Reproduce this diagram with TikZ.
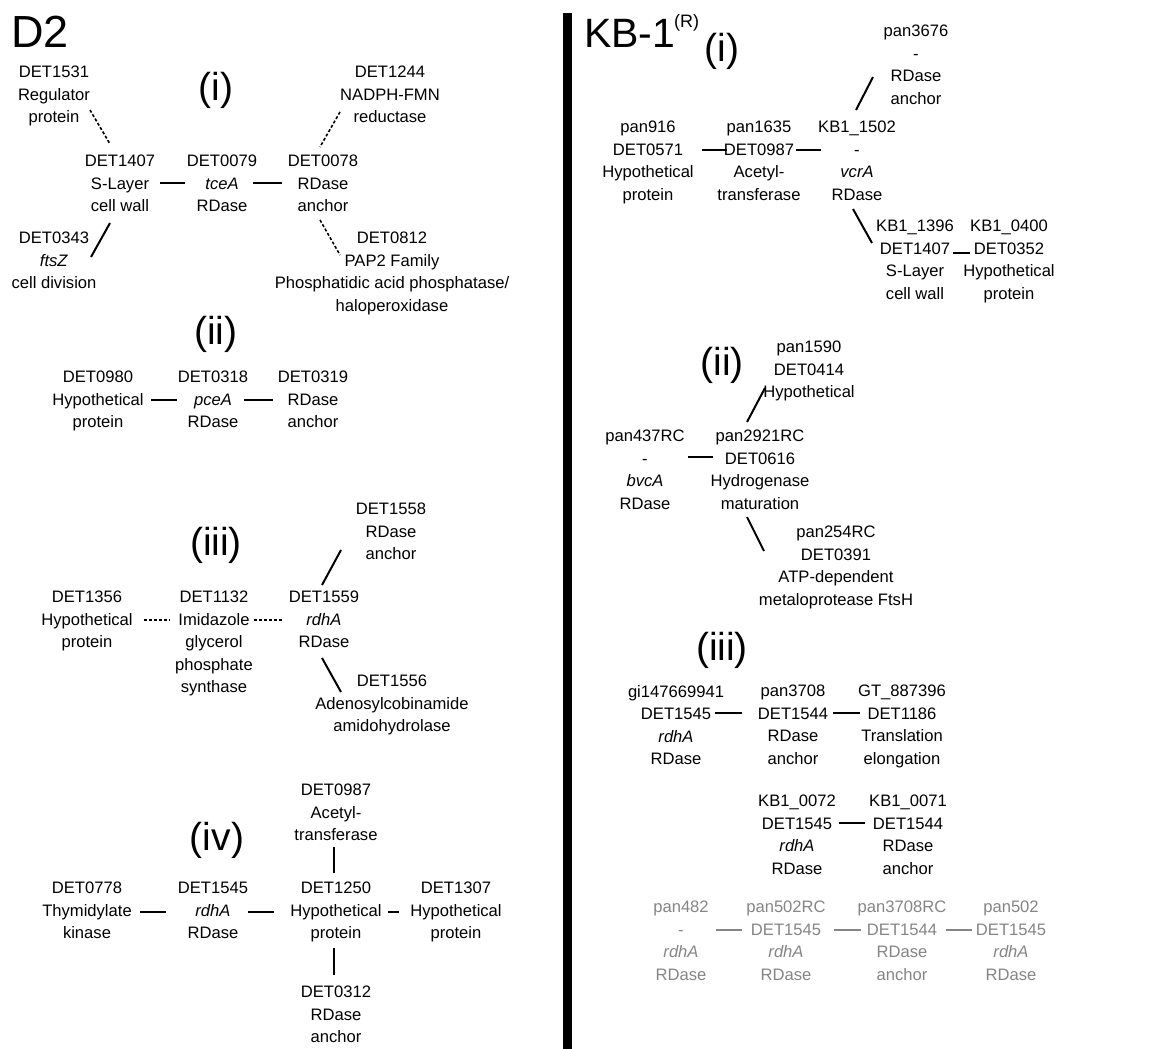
\documentclass[tikz,border=0pt]{standalone}
\usepackage{fontspec}
\setmainfont{Liberation Sans}
\usetikzlibrary{calc}
\definecolor{ghost}{gray}{0.52}
\begin{document}
\begin{tikzpicture}[x=1pt,y=-1pt]
    \tikzstyle{gene}=[align=center, inner sep=0pt, anchor=north, yshift=12pt, font=\fontsize{16.6}{22.5}\selectfont]
    \tikzstyle{faded}=[gene, text=ghost]
    \tikzstyle{title}=[anchor=base west, inner sep=0pt, font=\fontsize{45}{45}\selectfont]
    \tikzstyle{part}=[anchor=base, inner sep=0pt, font=\fontsize{39}{39}\selectfont]
    \tikzstyle{link}=[line width=2pt]
    \tikzstyle{weak}=[line width=1.6pt, dash pattern=on 3pt off 2pt]
    \tikzstyle{fadedlink}=[line width=2pt, draw=ghost]

    \useasboundingbox (0,0) rectangle (1175,1049);
    \fill (563,13) rectangle (572,1049);

    % D2
    \node[title] (d2) at (11,48) {D2};
    \node[part] (d2i) at (216,100) {(i)};
    \node[part] (d2ii) at (216,344) {(ii)};
    \node[part] (d2iii) at (216,555) {(iii)};
    \node[part] (d2iv) at (217,850) {(iv)};

    \node[gene] (d1531) at (54,78) {DET1531\\Regulator\\protein};
    \node[gene] (d1407) at (120,167) {DET1407\\S-Layer\\cell wall};
    \node[gene] (d0079) at (222,167) {DET0079\\\textit{tceA}\\RDase};
    \node[gene] (d0078) at (323,167) {DET0078\\RDase\\anchor};
    \node[gene] (d1244) at (390,78) {DET1244\\NADPH-FMN\\reductase};
    \node[gene] (d0343) at (54,244) {DET0343\\\textit{ftsZ}\\cell division};
    \node[gene] (d0812) at (392,244) {DET0812\\PAP2 Family\\Phosphatidic acid phosphatase/\\haloperoxidase};

    \path ($(d1531.north)+(36,44)$) edge[weak] ($(d1407.north)+(-10,-11)$);
    \path ($(d1407.north)+(40,28)$) edge[link] ($(d0079.north)+(-37,28)$);
    \path ($(d0079.north)+(31,28)$) edge[link] ($(d0078.north)+(-41,28)$);
    \path ($(d1244.north)+(-50,46)$) edge[weak] ($(d0078.north)+(-3,-8)$);
    \path ($(d1407.north)+(-10,68)$) edge[link] ($(d0343.north)+(37,25)$);
    \path ($(d0078.north)+(-3,65)$) edge[weak] ($(d0812.north)+(-52,23)$);

    \node[gene] (d0980) at (98,383) {DET0980\\Hypothetical\\protein};
    \node[gene] (d0318) at (213,383) {DET0318\\\textit{pceA}\\RDase};
    \node[gene] (d0319) at (313,383) {DET0319\\RDase\\anchor};

    \path ($(d0980.north)+(53,29)$) edge[link] ($(d0318.north)+(-36,29)$);
    \path ($(d0318.north)+(31,29)$) edge[link] ($(d0319.north)+(-40,29)$);

    \node[gene] (d1558) at (391,515) {DET1558\\RDase\\anchor};
    \node[gene] (d1356) at (87,603) {DET1356\\Hypothetical\\protein};
    \node[gene] (d1132) at (214,603) {DET1132\\Imidazole\\glycerol\\phosphate\\synthase};
    \node[gene] (d1559) at (324,603) {DET1559\\\textit{rdhA}\\RDase};
    \node[gene] (d1556) at (392,687) {DET1556\\Adenosylcobinamide\\amidohydrolase};

    \path ($(d1356.north)+(57,29)$) edge[weak] ($(d1132.north)+(-44,29)$);
    \path ($(d1132.north)+(40,29)$) edge[weak] ($(d1559.north)+(-41,29)$);
    \path ($(d1559.north)+(-2,-6)$) edge[link] ($(d1558.north)+(-50,47)$);
    \path ($(d1559.north)+(-2,67)$) edge[link] ($(d1556.north)+(-51,17)$);

    \node[gene] (d0987) at (336,796) {DET0987\\Acetyl-\\transferase};
    \node[gene] (d0778) at (87,894) {DET0778\\Thymidylate\\kinase};
    \node[gene] (d1545) at (213,894) {DET1545\\\textit{rdhA}\\RDase};
    \node[gene] (d1250) at (336,894) {DET1250\\Hypothetical\\protein};
    \node[gene] (d1307) at (456,894) {DET1307\\Hypothetical\\protein};
    \node[gene] (d0312) at (336,998) {DET0312\\RDase\\anchor};

    \path ($(d0778.north)+(53,30)$) edge[link] ($(d1545.north)+(-47,30)$);
    \path ($(d1545.north)+(35,30)$) edge[link] ($(d1250.north)+(-62,30)$);
    \path ($(d1250.north)+(52,30)$) edge[link] ($(d1307.north)+(-57,30)$);
    \path ($(d0987.north)+(-2,63)$) edge[link] ($(d1250.north)+(-2,-9)$);
    \path ($(d1250.north)+(-2,66)$) edge[link] ($(d0312.north)+(-2,-11)$);

    % KB-1
    \node[title, font=\fontsize{41}{41}\selectfont] (kb1) at (584,48) {KB-1};
    \node[anchor=base west, inner sep=0pt, font=\fontsize{18}{18}\selectfont] (kbr) at (674,28) {(R)};
    \node[part] (kbi) at (722,62) {(i)};
    \node[part] (kbii) at (722,375) {(ii)};
    \node[part] (kbiii) at (722,660) {(iii)};

    \node[gene] (p3676) at (916,37) {pan3676\\-\\RDase\\anchor};
    \node[gene] (p916) at (648,133) {pan916\\DET0571\\Hypothetical\\protein};
    \node[gene] (p1635) at (759,133) {pan1635\\DET0987\\Acetyl-\\transferase};
    \node[gene] (k1502) at (857,133) {KB1\_1502\\-\\\textit{vcrA}\\RDase};
    \node[gene] (k1396) at (915,232) {KB1\_1396\\DET1407\\S-Layer\\cell wall};
    \node[gene] (k0400) at (1009,232) {KB1\_0400\\DET0352\\Hypothetical\\protein};

    \path ($(p916.north)+(54,29)$) edge[link] ($(p1635.north)+(-32,29)$);
    \path ($(p1635.north)+(37,29)$) edge[link] ($(k1502.north)+(-36,29)$);
    \path ($(k1502.north)+(-1,-11)$) edge[link] ($(p3676.north)+(-43,52)$);
    \path ($(k1502.north)+(-4,88)$) edge[link] ($(k1396.north)+(-43,23)$);
    \path ($(k1396.north)+(38,33)$) edge[link] ($(k0400.north)+(-39,33)$);

    \node[gene] (p1590) at (809,353) {pan1590\\DET0414\\Hypothetical};
    \node[gene] (p437) at (645,442) {pan437RC\\-\\\textit{bvcA}\\RDase};
    \node[gene] (p2921) at (760,442) {pan2921RC\\DET0616\\Hydrogenase\\maturation};
    \node[gene] (p254) at (836,538) {pan254RC\\DET0391\\ATP-dependent\\metaloprotease FtsH};

    \path ($(p437.north)+(43,27)$) edge[link] ($(p2921.north)+(-47,27)$);
    \path ($(p2921.north)+(-13,-8)$) edge[link] ($(p1590.north)+(-44,47)$);
    \path ($(p2921.north)+(-13,87)$) edge[link] ($(p254.north)+(-72,25)$);

    \node[gene] (gi9941) at (676,697) {gi147669941\\DET1545\\\textit{rdhA}\\RDase};
    \node[gene] (p3708) at (793,697) {pan3708\\DET1544\\RDase\\anchor};
    \node[gene] (gt7396) at (902,697) {GT\_887396\\DET1186\\Translation\\elongation};
    \node[gene] (k0072) at (797,807) {KB1\_0072\\DET1545\\\textit{rdhA}\\RDase};
    \node[gene] (k0071) at (908,807) {KB1\_0071\\DET1544\\RDase\\anchor};

    \path ($(gi9941.north)+(39,28)$) edge[link] ($(p3708.north)+(-51,28)$);
    \path ($(p3708.north)+(40,28)$) edge[link] ($(gt7396.north)+(-42,28)$);
    \path ($(k0072.north)+(42,28)$) edge[link] ($(k0071.north)+(-43,28)$);

    \node[faded] (p482) at (681,913) {pan482\\-\\\textit{rdhA}\\RDase};
    \node[faded] (p502rc) at (786,913) {pan502RC\\DET1545\\\textit{rdhA}\\RDase};
    \node[faded] (p3708rc) at (902,913) {pan3708RC\\DET1544\\RDase\\anchor};
    \node[faded] (p502) at (1011,913) {pan502\\DET1545\\\textit{rdhA}\\RDase};

    \path ($(p482.north)+(35,29)$) edge[fadedlink] ($(p502rc.north)+(-44,29)$);
    \path ($(p502rc.north)+(48,29)$) edge[fadedlink] ($(p3708rc.north)+(-41,29)$);
    \path ($(p3708rc.north)+(44,29)$) edge[fadedlink] ($(p502.north)+(-39,29)$);
\end{tikzpicture}
\end{document}
